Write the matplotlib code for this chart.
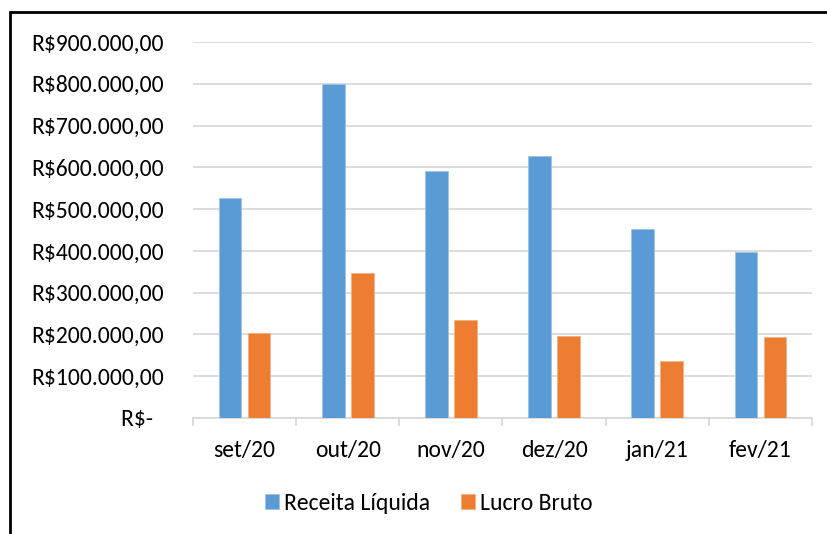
import matplotlib
matplotlib.use("Agg")
import matplotlib.pyplot as plt
import numpy as np
from matplotlib.patches import Rectangle
from matplotlib.ticker import FuncFormatter

categories = ["set/20", "out/20", "nov/20", "dez/20", "jan/21", "fev/21"]
receita = [527000, 799000, 591000, 628000, 453000, 398000]
lucro = [203000, 346000, 234000, 196000, 136000, 193000]
yticks = [0, 100000, 200000, 300000, 400000, 500000, 600000, 700000, 800000, 900000]

plt.rcParams['font.family'] = ['Carlito', 'Lato', 'DejaVu Sans']

W, H = 827, 534
fig = plt.figure(figsize=(W/100, H/100), dpi=100)
ax = fig.add_axes([193/W, 1-418/H, (812-193)/W, (418-42)/H])

x = np.arange(len(categories))
bw = 0.22
ax.bar(x - 0.14, receita, bw, color="#5B9BD5", label="Receita Líquida", zorder=3,
       edgecolor="#9DC3E6", linewidth=0.6)
ax.bar(x + 0.14, lucro, bw, color="#ED7D31", label="Lucro Bruto", zorder=3,
       edgecolor="#F4B183", linewidth=0.6)

ax.set_xlim(-0.5, len(categories) - 0.5)
ax.set_ylim(0, 900000)
ax.set_yticks(yticks)

def fmt(v, pos):
    if v == 0:
        return "R$-  "
    s = f"{int(v):,}".replace(",", ".")
    return f"R${s},00"

ax.yaxis.set_major_formatter(FuncFormatter(fmt))
ax.grid(axis="y", color="#D9D9D9", linewidth=1.3, zorder=0)
for s in ["top", "right", "left"]:
    ax.spines[s].set_visible(False)
ax.spines["bottom"].set_color("#D9D9D9")
ax.spines["bottom"].set_linewidth(1.3)
ax.tick_params(axis="y", length=0, pad=21, labelsize=17, labelcolor="black")

ax.set_xticks(x)
ax.set_xticklabels(categories)
ax.tick_params(axis="x", length=0, pad=16, labelsize=17)
ax.set_xticks(np.arange(len(categories) + 1) - 0.5, minor=True)
ax.tick_params(axis="x", which="minor", length=6, color="#D9D9D9", width=1.3)

leg = fig.legend(loc="center", bbox_to_anchor=(429 / W, 1 - 503 / H),
                 ncol=2, frameon=False, fontsize=17, handlelength=0.59, handleheight=0.59,
                 handletextpad=0.21, columnspacing=1.3, borderpad=0, borderaxespad=0)

fig.patches.append(Rectangle((9.5/W, -0.1), 1.2, 1.1 - 12.5/H, transform=fig.transFigure,
                             fill=False, edgecolor="black", linewidth=2.0))

fig.savefig("out.png", dpi=100)
